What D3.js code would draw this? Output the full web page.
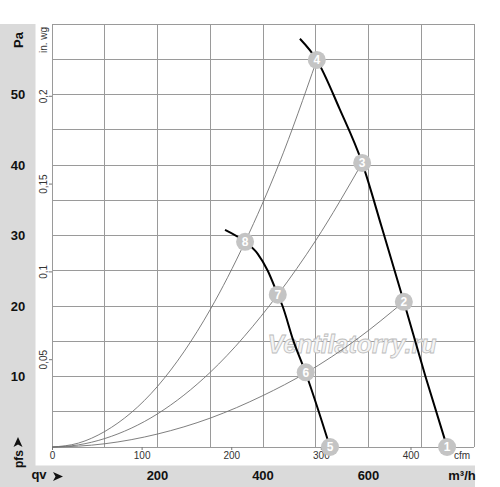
<!DOCTYPE html>
<html><head><meta charset="utf-8">
<script src="https://cdn.jsdelivr.net/npm/d3@7"></script>
<style>body{margin:0;background:#fff}svg{display:block;font-family:"Liberation Sans",Arial,sans-serif}</style>
</head><body><svg id="c" width="500" height="487"></svg>
<script>
// Data (flow in m³/h, pressure in Pa)
const paTicks = [10, 20, 30, 40, 50];
const inwgTicks = [0.05, 0.1, 0.15, 0.2];
const m3hTicks = [200, 400, 600];
const cfmTicks = [0, 100, 200, 300, 400];
const fanHigh = [[470,57.9],[502,54.9],[545,48],[588,40.3],[625,31.2],[667,20.6],[708,10],[749,0]];
const fanLow = [[328,30.8],[366,29.1],[390,27.4],[409,25],[428,21.6],[437,20],[457,15.2],[481,10.5],[527,0]];
const sysA = [[0,0],[50,0.55],[100,2.2],[200,8.6],[300,19.5],[366,29.1],[430,40.1],[502,54.9]];
const sysB = [[0,0],[50,0.3],[100,1.2],[200,4.7],[300,10.6],[428,21.6],[500,29.3],[588,40.3]];
const sysC = [[0,0],[50,0.12],[100,0.46],[200,1.84],[300,4.1],[400,7.3],[481,10.5],[580,15.4],[667,20.6]];
const points = [
  {n:1, q:749, p:0}, {n:2, q:667, p:20.6}, {n:3, q:588, p:40.3}, {n:4, q:502, p:54.9},
  {n:5, q:527, p:0}, {n:6, q:481, p:10.6}, {n:7, q:428, p:21.6}, {n:8, q:366, p:29.1}
];

const svg = d3.select("#c");
const L = 52, R = 474, T = 24, B = 447;
const x = d3.scaleLinear().domain([0, 800]).range([L, R]);
const y = d3.scaleLinear().domain([0, 60]).range([B, T]);
const xc = d3.scaleLinear().domain([0, 800/1.699]).range([L, R]);
const yi = d3.scaleLinear().domain([0, 60/249.09]).range([B, T]);

// gray bands
svg.append("rect").attr("x",0).attr("y",24).attr("width",35.5).attr("height",463).attr("fill","#dadada");
svg.append("rect").attr("x",0).attr("y",465.5).attr("width",475).attr("height",21.5).attr("fill","#dadada");

// grid
const g = svg.append("g");
g.selectAll("line.v").data(d3.range(0, 801, 100)).join("line")
  .attr("x1", d=>x(d)).attr("x2", d=>x(d)).attr("y1", T).attr("y2", B)
  .attr("stroke", "#9a9a9a").attr("stroke-width", 1).attr("shape-rendering","crispEdges");
g.selectAll("line.h").data(d3.range(0, 61, 5)).join("line")
  .attr("x1", L).attr("x2", R).attr("y1", d=>y(d)).attr("y2", d=>y(d))
  .attr("stroke", "#9a9a9a").attr("stroke-width", 1).attr("shape-rendering","crispEdges");

// cfm axis (bottom)
const ax = svg.append("g").attr("transform", `translate(0,${B})`)
  .call(d3.axisBottom(xc).tickValues(cfmTicks).tickSize(3).tickPadding(2).tickFormat(d3.format("d")));
ax.select(".domain").remove();
ax.selectAll("line").attr("stroke","#777");
ax.selectAll("text").attr("font-size", 10).attr("fill", "#333").attr("font-family","Liberation Sans, Arial");
svg.append("text").attr("x", 462).attr("y", 459).attr("text-anchor","middle").attr("font-size",10).attr("fill","#333").text("cfm");

// in.wg axis (left)
const ay = svg.append("g").attr("transform", `translate(${L},0)`)
  .call(d3.axisLeft(yi).tickValues(inwgTicks).tickSize(3).tickFormat(d=>String(d).replace(".", ",")));
ay.select(".domain").remove();
ay.selectAll("line").attr("stroke","#777");
ay.selectAll("text").attr("font-size", 10).attr("fill","#333").attr("font-family","Liberation Sans, Arial")
  .attr("text-anchor","middle").attr("x", 0).attr("y", 0).attr("dy", "0.35em")
  .attr("transform", "translate(-8.5,0) rotate(-90)");
svg.append("text").attr("transform","translate(47,40) rotate(-90)").attr("text-anchor","middle")
  .attr("font-size",10).attr("fill","#333").text("in. wg");

// Pa labels (gray band)
svg.selectAll("text.pa").data(paTicks).join("text")
  .attr("x", 18).attr("y", d=>y(d)).attr("dy","0.36em").attr("text-anchor","middle")
  .attr("font-size", 13).attr("font-weight","bold").attr("fill","#111").text(d=>d);
svg.append("text").attr("transform","translate(22.5,40) rotate(-90)").attr("text-anchor","middle")
  .attr("font-size",13).attr("font-weight","bold").attr("fill","#111").text("Pa");
svg.append("text").attr("transform","translate(22.5,459) rotate(-90)").attr("text-anchor","middle")
  .attr("font-size",12).attr("font-weight","bold").attr("fill","#111").text("pfs");
svg.append("path").attr("d","M18,437 L22.5,447 L18,444.5 L13.5,447 Z").attr("fill","#111");

// m3/h labels (bottom band)
svg.selectAll("text.m3").data(m3hTicks).join("text")
  .attr("x", d=>x(d)).attr("y", 480).attr("text-anchor","middle")
  .attr("font-size", 13).attr("font-weight","bold").attr("fill","#111").text(d=>d);
svg.append("text").attr("x", 462).attr("y", 480).attr("text-anchor","middle")
  .attr("font-size",13).attr("font-weight","bold").attr("fill","#111").text("m³/h");
svg.append("text").attr("x", 39).attr("y", 479).attr("text-anchor","middle")
  .attr("font-size",13).attr("font-weight","bold").attr("fill","#111").text("qv");
svg.append("path").attr("d","M53,472 L63,476.5 L53,481 L55.5,476.5 Z").attr("fill","#111");

// watermark
svg.append("text").attr("x", 352).attr("y", 353).attr("text-anchor","middle")
  .attr("font-size", 25).attr("font-style","italic").attr("font-weight","bold")
  .attr("fill","#f4f4f4").attr("stroke","#bdbdbd").attr("stroke-width",0.8)
  .text("Ventilatorry.ru");

// curves
const line = d3.line().x(d=>x(d[0])).y(d=>y(d[1])).curve(d3.curveMonotoneX);
[sysA, sysB, sysC].forEach(s => svg.append("path").attr("d", line(s)).attr("fill","none")
  .attr("stroke","#707070").attr("stroke-width",0.9));
[fanHigh, fanLow].forEach(s => svg.append("path").attr("d", line(s)).attr("fill","none")
  .attr("stroke","#000").attr("stroke-width",2));

// points
const pg = svg.selectAll("g.pt").data(points).join("g").attr("transform", d=>`translate(${x(d.q)},${y(d.p)})`);
pg.append("circle").attr("r", 9).attr("fill","#c4c4c4");
pg.append("text").attr("text-anchor","middle").attr("dy","0.36em").attr("font-size",12).attr("font-weight","bold")
  .attr("fill","#fff").text(d=>d.n);
</script></body></html>
